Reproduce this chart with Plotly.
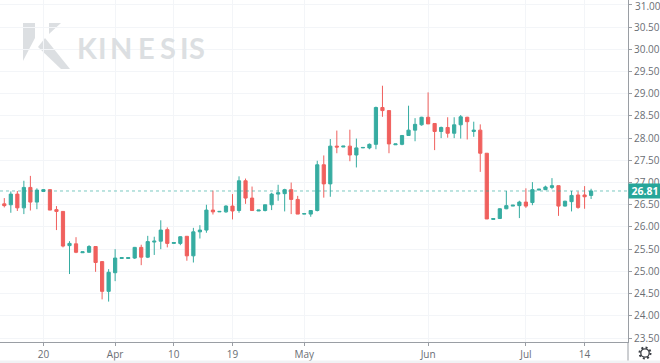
import plotly.graph_objects as go

opens = [26.52, 26.5, 26.74, 26.43, 26.89, 26.56, 26.8, 26.84, 26.39, 26.35, 25.58, 25.62, 25.42, 25.43, 25.56, 25.22, 24.55, 24.97, 25.29, 25.29, 25.3, 25.54, 25.32, 25.66, 25.68, 25.94, 25.63, 25.63, 25.79, 25.35, 25.89, 25.93, 26.38, 26.34, 26.34, 26.47, 26.37, 27.04, 26.65, 26.36,
         26.37, 26.5, 26.74, 26.75, 26.84, 26.62, 26.29, 26.29, 26.37, 27.4, 26.97, 27.82, 27.8, 27.82, 27.62, 27.78, 27.78, 27.86, 28.69, 28.62, 27.85, 27.86, 28.06, 28.18, 28.3, 28.47,
         28.33, 28.15, 28.24, 28.11, 28.3, 28.47, 28.15, 28.18, 27.66, 26.17, 26.19, 26.41, 26.47, 26.48, 26.56, 26.55, 26.83, 26.84, 26.89, 26.93, 26.47, 26.57, 26.72, 26.72, 26.71]
highs = [26.65, 26.8, 26.81, 27.04, 27.15, 26.87, 26.85, 26.85, 26.47, 26.35, 25.68, 25.77, 25.44, 25.59, 25.56, 25.23, 25.05, 25.5, 25.31, 25.31, 25.55, 25.6, 25.8, 25.78, 26.15, 25.99, 25.65, 25.79, 25.79, 25.98, 26.04, 26.5, 26.82, 26.35, 26.49, 26.74, 27.14, 27.09, 26.91, 26.38, 26.5, 26.77, 26.95, 26.86, 27.0, 26.7, 26.3, 26.38, 27.49, 27.61, 27.98, 28.17, 27.82, 28.19, 27.99, 27.79, 27.88, 28.71, 29.18, 28.62, 27.87, 28.07, 28.73, 28.45, 28.48, 29.03, 28.33, 28.26, 28.47, 28.47, 28.52, 28.48, 28.37, 28.31, 27.66, 26.19, 26.42, 26.81, 26.49, 26.59, 26.87, 27.01, 26.85, 26.93, 27.1, 26.93, 26.59, 26.81, 26.8, 26.92, 26.86]
lows = [26.44, 26.32, 26.36, 26.29, 26.37, 26.4, 26.8, 26.38, 25.93, 25.54, 24.94, 25.41, 25.42, 25.42, 24.99, 24.37, 24.32, 24.78, 25.29, 25.29, 25.28, 25.14, 25.3, 25.37, 25.5, 25.54, 25.63, 25.59, 25.24, 25.2, 25.74, 25.87, 26.28, 26.34, 26.32, 26.17, 26.32, 26.52, 26.36, 26.36, 26.35, 26.38, 26.59, 26.35, 26.29, 26.29, 26.29, 26.23, 26.35, 26.66, 26.68, 27.66, 27.8, 27.48, 27.34, 27.78, 27.75, 27.75, 28.48, 27.66, 27.85, 27.84, 28.05, 27.93, 28.28, 28.32, 27.73, 28.0, 28.01, 28.0, 27.99, 27.97, 28.03, 27.24, 26.18, 26.17, 26.18, 26.4, 26.47, 26.2, 26.43, 26.49, 26.83, 26.83, 26.85, 26.25, 26.46, 26.35, 26.41, 26.41, 26.63]
closes = [26.48, 26.74, 26.43, 26.89, 26.56, 26.83, 26.84, 26.38, 26.35, 25.57, 25.63, 25.43, 25.44, 25.56, 25.2, 24.55, 24.98, 25.3, 25.31, 25.31, 25.54, 25.32, 25.67, 25.68, 25.93, 25.63, 25.65, 25.78, 25.35, 25.89, 25.93, 26.38, 26.34, 26.35, 26.47, 26.36, 27.04, 26.65, 26.37, 26.38, 26.5, 26.74, 26.77, 26.84, 26.62, 26.29, 26.3, 26.37, 27.4, 26.97, 27.82, 27.8, 27.82, 27.62, 27.78, 27.79, 27.86, 28.69, 28.62, 27.87, 27.87, 28.06, 28.18, 28.31, 28.47, 28.32, 28.15, 28.24, 28.11, 28.3, 28.48, 28.37, 28.18, 27.66, 26.18, 26.19, 26.41, 26.48, 26.49, 26.56, 26.47, 26.84, 26.85, 26.9, 26.93, 26.47, 26.58, 26.71, 26.44, 26.68, 26.81]
bars = list(range(len(closes)))
tick_bars = [6, 17, 26, 35, 46, 65, 80, 89]
tick_labels = ["20", "Apr", "10", "19", "May", "Jun", "Jul", "14"]
price_ticks = [23.5 + 0.5 * i for i in range(16)]
last_price = 26.81

UP, DOWN = "#26a69a", "#ef5350"
GRID = "#f3f5f8"
AXIS = "#9a9ea4"
TEXT = "#6a6e74"
LOGO = "#dcdfe2"
W, H = 628, 342

def px(v): return v / W
def py(v): return 1 - v / H
def poly(pts):
    return "M " + " L ".join(f"{px(x):.4f},{py(y):.4f}" for x, y in pts) + " Z"

fig = go.Figure(go.Candlestick(
    x=bars, open=opens, high=highs, low=lows, close=closes,
    increasing=dict(line=dict(color=UP, width=1), fillcolor=UP),
    decreasing=dict(line=dict(color=DOWN, width=1), fillcolor=DOWN),
    whiskerwidth=0, showlegend=False, hoverinfo="skip", opacity=0.92,
))

def box(x0, y0, x1, y1, **kw):
    return dict(xref="paper", yref="paper", x0=px(x0), x1=px(x1), y0=py(y0), y1=py(y1), **kw)

shapes = [
    dict(type="line", xref="paper", x0=0, x1=1, yref="y", y0=last_price, y1=last_price,
         line=dict(color=UP, width=1, dash="dot"), opacity=0.6),
    dict(type="path", xref="paper", yref="paper", line_width=0, fillcolor=LOGO, layer="below",
         path=poly([(23, 23), (35, 23), (35, 38), (23, 61)])),
    dict(type="path", xref="paper", yref="paper", line_width=0, fillcolor=LOGO, layer="below",
         path=poly([(49, 23), (61, 23), (49, 34)])),
    dict(type="path", xref="paper", yref="paper", line_width=0, fillcolor=LOGO, layer="below",
         path=poly([(38, 47), (45, 38), (70, 69), (61, 69)])),
    box(0, 360.5, 660, 364, type="rect", line_width=0, fillcolor="#f1f2f4"),
    box(628, 342, 628, 360.5, type="line", line=dict(color=AXIS, width=1)),
    box(639.5, 347.5, 650.5, 358.5, type="circle", line=dict(color="#3b3f45", width=2, dash="2px,2.3px")),
    box(640.8, 348.8, 649.2, 357.2, type="circle", line=dict(color="#3b3f45", width=1.3), fillcolor="white"),
]

annotations = [
    dict(text=f"<b>{last_price:.2f}</b>", xref="paper", yref="y", x=1, y=last_price, xanchor="left",
         xshift=0, showarrow=False, bgcolor=UP, font=dict(color="white", size=10.5, family="Open Sans, sans-serif"),
         width=32, height=14, borderpad=0, align="center"),
    dict(text=f"{price_ticks[-1]:.2f}", xref="paper", yref="y", x=1, y=price_ticks[-1], xanchor="left",
         xshift=5, yshift=-1, showarrow=False, font=dict(color=TEXT, size=10, family="Open Sans, sans-serif")),
]
for ch, cx in zip("KINESIS", [87, 102, 121, 146, 168, 184, 197]):
    annotations.append(dict(text=ch, xref="paper", yref="paper", x=px(cx), y=py(47), xanchor="center",
                            yanchor="middle", showarrow=False,
                            font=dict(color=LOGO, size=29, family="Lato", weight="bold")))

fig.update_layout(
    width=660, height=363, margin=dict(l=0, r=32, t=0, b=21),
    paper_bgcolor="white", plot_bgcolor="white", showlegend=False,
    shapes=shapes, annotations=annotations,
    xaxis=dict(range=[-0.66, 95.66], tickmode="array", tickvals=tick_bars, ticktext=tick_labels,
               rangeslider=dict(visible=False), showgrid=True, gridcolor=GRID, gridwidth=1,
               ticks="outside", ticklen=3, tickcolor=AXIS, showline=True, linecolor=AXIS, linewidth=1,
               tickfont=dict(size=10, color=TEXT, family="Open Sans, sans-serif"), zeroline=False),
    yaxis=dict(range=[23.41, 31.11], side="right", tickmode="array", tickvals=price_ticks,
               ticktext=[f"{v:.2f}" for v in price_ticks[:-1]] + [""], showgrid=True, gridcolor=GRID, gridwidth=1,
               ticks="outside", ticklen=3, tickcolor=AXIS, showline=True, linecolor=AXIS, linewidth=1,
               tickfont=dict(size=10, color=TEXT, family="Open Sans, sans-serif"), zeroline=False),
)
fig.write_html("out.html", config=dict(displayModeBar=False),
               post_script="document.body.style.margin='0';document.body.style.overflow='hidden';")
